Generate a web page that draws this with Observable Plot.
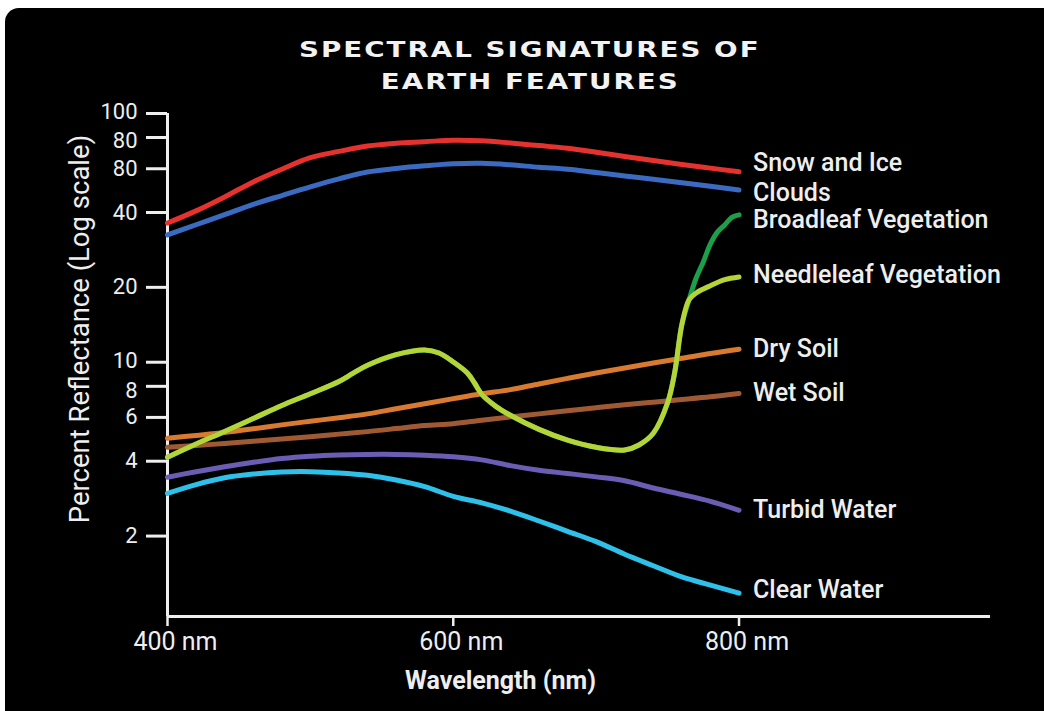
<!DOCTYPE html>
<html>
<head>
<meta charset="utf-8">
<script src="https://cdn.jsdelivr.net/npm/d3@7"></script>
<script src="https://cdn.jsdelivr.net/npm/@observablehq/plot@0.6"></script>
<style>
  html, body { margin: 0; padding: 0; background: #ffffff; }
  #card {
    position: absolute; left: 5px; top: 8px; width: 1039px; height: 703px;
    background: #000; border-top-left-radius: 14px; overflow: hidden;
  }
  #title {
    height: 92px; box-sizing: border-box; padding-top: 26px; padding-left: 11px;
    text-align: center; color: #f2f2f2; font-family: "DejaVu Sans", sans-serif;
    font-weight: bold; font-size: 21px; line-height: 32px;
  }
  #title span { display: inline-block; transform: scaleX(1.32); letter-spacing: 1.5px; }
  #chart svg { display: block; }
</style>
</head>
<body>
<div id="card">
  <div id="title"><span>SPECTRAL SIGNATURES OF</span><br><span>EARTH FEATURES</span></div>
  <div id="chart"></div>
</div>
<script>
// ---- data ----
const wavelengths = [400,420,440,460,480,500,520,540,560,580,600,620,640,660,680,700,720,740,760,780,800];
const snowIce   = [36.3,40.6,46.2,53.1,59.7,66.4,70.4,74.0,76.0,77.0,78.1,77.7,76.1,74.3,72.5,69.9,67.2,64.7,62.4,60.3,58.3];
const clouds    = [32.5,35.7,39.2,43.1,46.8,50.7,54.6,58.2,60.1,61.6,62.8,63.1,62.2,60.8,59.7,57.9,56.1,54.4,52.7,51.0,49.3];
const drySoil   = [4.95,5.08,5.22,5.40,5.60,5.79,5.98,6.20,6.50,6.81,7.14,7.47,7.76,8.18,8.61,9.05,9.48,9.93,10.37,10.84,11.27];
const wetSoil   = [4.55,4.63,4.71,4.81,4.91,5.02,5.14,5.26,5.41,5.57,5.66,5.85,6.03,6.20,6.38,6.56,6.74,6.91,7.08,7.26,7.49];
const turbidWater = [3.45,3.63,3.80,3.96,4.10,4.19,4.24,4.26,4.26,4.23,4.17,4.05,3.84,3.68,3.57,3.46,3.34,3.12,2.94,2.76,2.54];
const clearWater  = [2.97,3.22,3.43,3.55,3.62,3.63,3.59,3.51,3.36,3.16,2.89,2.72,2.52,2.30,2.09,1.90,1.69,1.52,1.37,1.27,1.18];

const needleleafWavelengths = [400,420,440,460,480,500,520,530,540,560,580,590,600,610,615,620,630,640,660,680,700,720,730,740,750,755,760,765,770,780,790,800];
const needleleaf = [4.15,4.69,5.27,5.94,6.70,7.47,8.37,9.04,9.72,10.73,11.21,10.89,10.02,9.03,8.23,7.42,6.63,6.12,5.37,4.86,4.55,4.44,4.65,5.18,6.87,9.11,14.17,17.82,18.98,20.31,21.47,22.01];

const broadleafWavelengths = [400,420,440,460,480,500,520,530,540,560,580,590,600,610,615,620,630,640,660,680,700,720,730,740,750,755,760,765,770,775,780,785,790,795,800];
const broadleaf = [4.15,4.69,5.27,5.94,6.70,7.47,8.37,9.04,9.72,10.73,11.21,10.89,10.02,9.03,8.23,7.42,6.63,6.12,5.37,4.86,4.55,4.44,4.65,5.18,6.87,9.11,14.17,17.82,21.81,25.30,29.90,33.42,35.66,38.23,39.13];

const seriesNames = ["Snow and Ice","Clouds","Broadleaf Vegetation","Needleleaf Vegetation","Dry Soil","Wet Soil","Turbid Water","Clear Water"];
const seriesColors = ["#e5322f","#3b6bc1","#1c9e4b","#b4d437","#d87a30","#a05a33","#6a5db3","#2fc0ea"];

const yTickValues = [100,80,60,40,20,10,8,6,4,2];
const yTickLabels = ["100","80","80","40","20","10","8","6","4","2"];
const xTickValues = [400,600,800];
const xTickLabels = ["400 nm","600 nm","800 nm"];

const yAxisTitle = "Percent Reflectance (Log scale)";
const xAxisTitle = "Wavelength (nm)";

// ---- build table ----
const seriesTable = [
  {name: "Snow and Ice", wl: wavelengths, v: snowIce},
  {name: "Clouds", wl: wavelengths, v: clouds},
  {name: "Dry Soil", wl: wavelengths, v: drySoil},
  {name: "Wet Soil", wl: wavelengths, v: wetSoil},
  {name: "Turbid Water", wl: wavelengths, v: turbidWater},
  {name: "Clear Water", wl: wavelengths, v: clearWater},
  {name: "Broadleaf Vegetation", wl: broadleafWavelengths, v: broadleaf},
  {name: "Needleleaf Vegetation", wl: needleleafWavelengths, v: needleleaf}
];
const rows = seriesTable.flatMap(s => s.wl.map((w, i) => ({name: s.name, wl: w, value: s.v[i]})));
const endRows = seriesTable.map(s => ({name: s.name, wl: s.wl[s.wl.length - 1], value: s.v[s.v.length - 1]}));

const yLabelOf = new Map(yTickValues.map((v, i) => [v, yTickLabels[i]]));
const xLabelOf = new Map(xTickValues.map((v, i) => [v, xTickLabels[i]]));
const yMin = 0.95, yMax = 100, xMin = 400, xMax = 976;
// small nudges so crowded tick labels and end labels do not collide
const labelDy = {"Snow and Ice": -9, "Clouds": 3, "Broadleaf Vegetation": 5, "Needleleaf Vegetation": -2, "Clear Water": -3};
const tickDy = {100: -2, 80: 3, 10: -1, 8: 5};
const axisColor = "#eeeeee";

const chart = Plot.plot({
  width: 1039,
  height: 611,
  marginLeft: 162,
  marginRight: 54,
  marginTop: 13,
  marginBottom: 95,
  style: {background: "transparent", color: axisColor, fontFamily: "Roboto, 'Liberation Sans', sans-serif", fontSize: "25px"},
  x: {domain: [xMin, xMax]},
  y: {type: "log", domain: [yMin, yMax]},
  color: {domain: seriesNames, range: seriesColors},
  marks: [
    Plot.axisY(yTickValues, {tickFormat: () => "", tickSize: 21, strokeWidth: 3, color: axisColor, label: null}),
    ...yTickValues.map(v => Plot.text([v], {x: () => xMin, y: d => d, text: d => yLabelOf.get(d), dx: -30, dy: tickDy[v] ?? 0, textAnchor: "end", lineAnchor: "middle", fill: axisColor, fontSize: 22})),
    Plot.axisX(xTickValues, {tickFormat: () => "", tickSize: 10, strokeWidth: 2.5, color: axisColor, label: null}),
    Plot.text(xTickValues, {x: d => d, y: () => yMin, text: d => xLabelOf.get(d), dx: 8, dy: 25, textAnchor: "middle", lineAnchor: "middle", fill: axisColor, fontSize: 25}),
    Plot.ruleX([xMin], {stroke: axisColor, strokeWidth: 3}),
    Plot.ruleY([yMin], {stroke: axisColor, strokeWidth: 3}),
    Plot.line(rows, {x: "wl", y: "value", z: "name", stroke: "name", strokeWidth: 5, curve: "catmull-rom", strokeLinecap: "round"}),
    ...endRows.map(r => Plot.text([r], {x: "wl", y: "value", text: "name", dx: 14, dy: labelDy[r.name] ?? 0, textAnchor: "start", lineAnchor: "middle", fill: axisColor, fontSize: 25, fontWeight: 500})),
    Plot.text([yAxisTitle], {text: d => d, frameAnchor: "left", rotate: -90, dx: -87, dy: -36, textAnchor: "middle", lineAnchor: "middle", fill: axisColor, fontSize: 27.5}),
    Plot.text([xAxisTitle], {text: d => d, frameAnchor: "bottom-left", dx: 333, dy: 64, textAnchor: "middle", lineAnchor: "middle", fill: axisColor, fontSize: 25, fontWeight: "bold"})
  ]
});
document.getElementById("chart").appendChild(chart);
</script>
</body>
</html>
